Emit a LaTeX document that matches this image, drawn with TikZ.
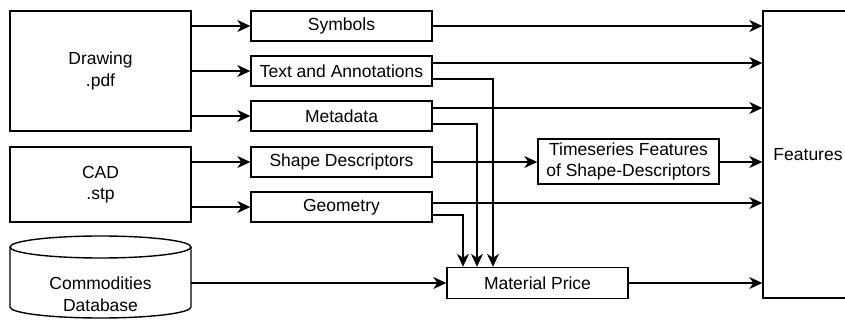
\documentclass[tikz,border=0pt]{standalone}
\usepackage{fontspec}
\setmainfont{Liberation Sans}
\usetikzlibrary{arrows.meta,positioning,calc}
\begin{document}
\begin{tikzpicture}[x=1pt,y=-1pt,
  every node/.style={font=\fontsize{17.5}{21.5}\selectfont},
  box/.style={draw,line width=1.4pt,inner sep=0pt,align=center,minimum width=181pt},
  small/.style={box,minimum height=30pt},
  conn/.style={line width=1.4pt,-{Stealth[length=13pt,width=12pt,inset=4pt]}},
  plain/.style={line width=1.4pt}]
\useasboundingbox (0,0) rectangle (845,320);
\clip (0,0) rectangle (845,320);
% sources
\node[box,minimum height=120pt] (drawing) at (100.5,71) {Drawing\\.pdf};
\node[box,minimum height=75pt] (cad) at (100.5,184.5) {CAD\\.stp};
% database cylinder
\draw[plain,line join=round] (10,247) -- (10,307) arc[start angle=180,end angle=360,x radius=90.5pt,y radius=11pt] -- (191,247);
\draw[plain] (100.5,247) ellipse [x radius=90.5pt,y radius=11pt];
\node[align=center] (db) at (100.5,294) {Commodities\\Database};
\coordinate (dbout) at (191,283);
% intermediate boxes
\node[small] (sym) at (341.5,26) {Symbols};
\node[small] (txt) at (341.5,71) {Text and Annotations};
\node[small] (meta) at (341.5,116) {Metadata};
\node[small] (shape) at (341.5,162) {Shape Descriptors};
\node[small] (geom) at (341.5,207) {Geometry};
\node[box,minimum height=45pt] (ts) at (628.5,161.5) {Timeseries Features\\of Shape-Descriptors};
\node[small,minimum height=31pt] (mp) at (537.5,283) {Material Price};
\node[box,minimum width=90pt,minimum height=287pt] (feat) at (808,154.5) {Features};
% connectors from sources
\draw[conn] (drawing.east |- sym) -- (sym.west);
\draw[conn] (drawing.east |- txt) -- (txt.west);
\draw[conn] (drawing.east |- meta) -- (meta.west);
\draw[conn] (cad.east |- shape) -- (shape.west);
\draw[conn] (cad.east |- geom) -- (geom.west);
\draw[conn] (dbout) -- (dbout -| mp.west);
% to features
\draw[conn] (sym.east) -- (sym.east -| feat.west);
\draw[conn] ([yshift=8pt]txt.east) -- ([yshift=8pt]txt.east -| feat.west);
\draw[conn] ([yshift=8pt]meta.east) -- ([yshift=8pt]meta.east -| feat.west);
\draw[conn] (shape.east) -- (shape.east -| ts.west);
\draw[conn] (shape.east -| ts.east) -- (shape.east -| feat.west);
\draw[conn] ([yshift=4pt]geom.east) -- ([yshift=4pt]geom.east -| feat.west);
\draw[conn] (mp.east) -- (mp.east -| feat.west);
% to material price
\draw[conn] ([yshift=-8pt]txt.east) -| ([xshift=-44.5pt]mp.north);
\draw[conn] ([yshift=-8pt]meta.east) -| ([xshift=-60.5pt]mp.north);
\draw[conn] ([yshift=-8pt]geom.east) -| ([xshift=-74.5pt]mp.north);
\end{tikzpicture}
\end{document}
